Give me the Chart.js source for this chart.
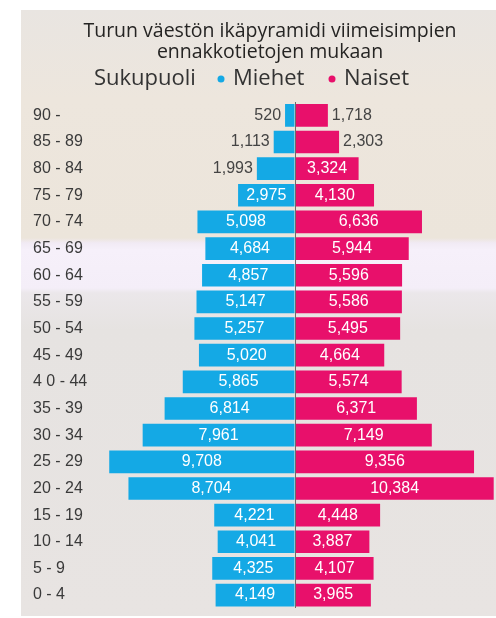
<!DOCTYPE html>
<html>
<head>
<meta charset="utf-8">
<script src="https://cdn.jsdelivr.net/npm/chart.js@4/dist/chart.umd.min.js"></script>
<style>
  html, body { margin: 0; padding: 0; background: #fff; }
  #wrap { position: relative; width: 496px; height: 618px; }
  #bg {
    position: absolute; left: 21px; top: 10px; width: 475px; height: 606px;
    background: linear-gradient(to bottom, #e9e5e1 0px, #ede6dd 90px, #ece5db 228px, #f1eaf4 233px, #f6f0fa 240px, #f4eef8 278px, #ebe7ea 283px, #e6e3e1 320px, #e8e4e2 606px);
  }
  canvas { position: absolute; left: 0; top: 0; }
</style>
</head>
<body>
<div id="wrap">
  <div id="bg"></div>
  <canvas id="pyramid" width="496" height="618"></canvas>
</div>
<script>
const titleLines = ['Turun väestön ikäpyramidi viimeisimpien', 'ennakkotietojen mukaan'];
const legendTitle = 'Sukupuoli';
const seriesNames = ['Miehet', 'Naiset'];
const ageGroups = ['90 -', '85 - 89', '80 - 84', '75 - 79', '70 - 74', '65 - 69', '60 - 64', '55 - 59', '50 - 54', '45 - 49',
                   '4 0 - 44', '35 - 39', '30 - 34', '25 - 29', '20 - 24', '15 - 19', '10 - 14', '5 - 9', '0 - 4'];
const men = [520, 1113, 1993, 2975, 5098, 4684, 4857, 5147, 5257, 5020, 5865, 6814, 7961, 9708, 8704, 4221, 4041, 4325, 4149];
const women = [1718, 2303, 3324, 4130, 6636, 5944, 5596, 5586, 5495, 4664, 5574, 6371, 7149, 9356, 10384, 4448, 3887, 4107, 3965];

const BLUE = '#14a9e5';
const PINK = '#e8106b';
const ARIAL = "'Liberation Sans', Arial, sans-serif";
const SEGOE = "'Open Sans', 'Noto Sans', sans-serif";

// otsikko ja selite piirretään itse
const headerPlugin = {
    id: 'header',
    afterDraw(chart) {
        const ctx = chart.ctx;
        ctx.save();
        ctx.fillStyle = '#252423';
        ctx.font = '19.5px ' + SEGOE;
        ctx.textAlign = 'center';
        ctx.textBaseline = 'alphabetic';
        ctx.fillText(titleLines[0], 270, 37);
        ctx.fillText(titleLines[1], 270, 58);

        ctx.font = '22px ' + SEGOE;
        ctx.textAlign = 'left';
        ctx.textBaseline = 'middle';
        ctx.fillStyle = '#333';
        ctx.fillText(legendTitle, 94, 79);

        const items = [[221, seriesNames[0], BLUE], [332, seriesNames[1], PINK]];
        items.forEach(([x, name, col]) => {
            ctx.fillStyle = col;
            ctx.beginPath();
            ctx.arc(x, 79, 3.5, 0, Math.PI * 2);
            ctx.fill();
            ctx.fillStyle = '#333';
            ctx.fillText(name, x + 12, 79);
        });
        ctx.restore();
    }
};

// arvot palkkien päälle
const valueLabels = {
    id: 'valueLabels',
    afterDatasetsDraw(chart) {
        const ctx = chart.ctx;
        ctx.save();
        ctx.font = '16px ' + ARIAL;
        ctx.textBaseline = 'middle';
        chart.data.datasets.forEach((ds, di) => {
            const meta = chart.getDatasetMeta(di);
            meta.data.forEach((bar, i) => {
                const txt = Math.abs(ds.data[i]).toLocaleString('en-US');
                const w = ctx.measureText(txt).width;
                const len = Math.abs(bar.x - bar.base);
                const left = bar.x < bar.base;
                if (len >= w + 8) {
                    ctx.fillStyle = '#fff';
                    ctx.textAlign = 'center';
                    ctx.fillText(txt, (bar.x + bar.base) / 2, bar.y);
                } else {
                    ctx.fillStyle = '#444';
                    ctx.textAlign = left ? 'right' : 'left';
                    ctx.fillText(txt, left ? bar.x - 4 : bar.x + 4, bar.y);
                }
            });
        });
        ctx.restore();
    }
};

new Chart(document.getElementById('pyramid'), {
    type: 'bar',
    data: {
        labels: ageGroups,
        datasets: [
            { label: seriesNames[0], data: men.map(v => -v), backgroundColor: BLUE },
            { label: seriesNames[1], data: women, backgroundColor: PINK }
        ]
    },
    options: {
        indexAxis: 'y',
        responsive: false,
        animation: false,
        layout: { padding: { top: 102, left: 33, right: 2, bottom: 8 } },
        datasets: { bar: { categoryPercentage: 1, barPercentage: 0.85 } },
        plugins: {
            legend: { display: false },
            title: { display: false },
            tooltip: { enabled: false }
        },
        scales: {
            x: {
                stacked: true,
                min: -10400,
                max: 10400,
                ticks: { display: false },
                border: { display: false },
                grid: {
                    drawTicks: false,
                    color: c => c.tick && c.tick.value === 0 ? '#6b6b6b' : 'transparent',
                    z: 1
                }
            },
            y: {
                stacked: true,
                border: { display: false },
                grid: { display: false, drawTicks: false },
                ticks: {
                    crossAlign: 'far',
                    padding: 0,
                    color: '#3a3a3a',
                    font: { family: ARIAL, size: 16 }
                },
                afterFit(scale) { scale.width = 63; }
            }
        }
    },
    plugins: [headerPlugin, valueLabels]
});
</script>
</body>
</html>
